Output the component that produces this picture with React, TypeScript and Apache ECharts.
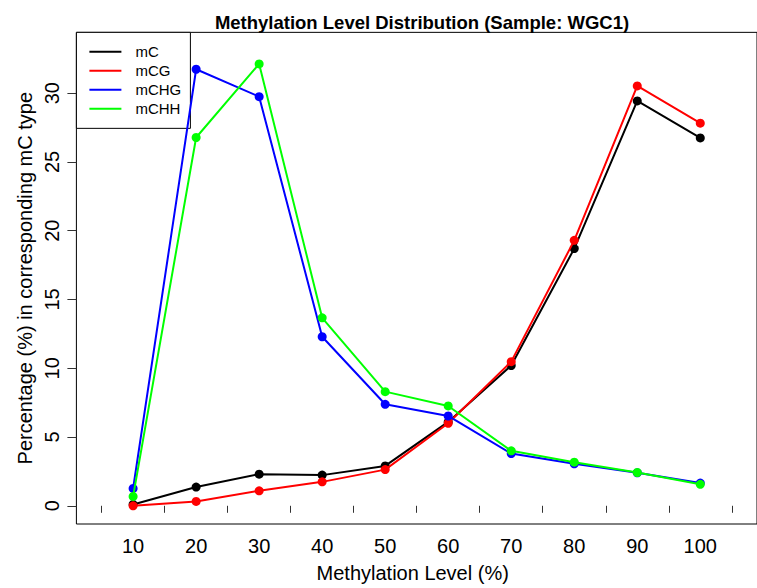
import React, { useEffect, useRef } from "react";
import * as echarts from "echarts";

const levels = [10, 20, 30, 40, 50, 60, 70, 80, 90, 100];
const seriesNames = ["mC", "mCG", "mCHG", "mCHH"];
const mC = [0.1, 1.36, 2.3, 2.23, 2.9, 6.1, 10.2, 18.7, 29.44, 26.75];
const mCG = [0.0, 0.32, 1.09, 1.74, 2.63, 6.0, 10.48, 19.3, 30.53, 27.82];
const mCHG = [1.26, 31.74, 29.75, 12.29, 7.38, 6.53, 3.8, 3.05, 2.4, 1.65];
const mCHH = [0.68, 26.78, 32.13, 13.67, 8.3, 7.26, 4.0, 3.17, 2.42, 1.56];
const colors = ["#000000", "#ff0000", "#0000ff", "#00ff00"];
const xTickValues = [5, 15, 25, 35, 45, 55, 65, 75, 85, 95, 105];
const xLabelValues = [10, 20, 30, 40, 50, 60, 70, 80, 90, 100];
const yTickValues = [0, 5, 10, 15, 20, 25, 30];

const FONT = "Liberation Sans";

export default function App() {
  const ref = useRef<HTMLDivElement>(null);
  useEffect(() => {
    document.body.style.margin = "0";
    const chart = echarts.init(ref.current!, null, { renderer: "svg" });
    const allSeries = [mC, mCG, mCHG, mCHH];
    chart.setOption({
      animation: false,
      backgroundColor: "#ffffff",
      title: {
        text: "Methylation Level Distribution (Sample: WGC1)",
        left: 417,
        textAlign: "center",
        top: 8,
        textStyle: { fontFamily: FONT, fontSize: 18.5, fontWeight: "bold", color: "#000" },
      },
      legend: {
        left: 76.4,
        top: 32.35,
        orient: "vertical",
        icon: "rect",
        itemWidth: 32,
        itemHeight: 2,
        itemGap: 0,
        padding: [10, 5, 10, 13],
        borderColor: "#000",
        borderWidth: 1,
        backgroundColor: "#fff",
        textStyle: {
          fontFamily: FONT,
          fontSize: 15,
          lineHeight: 19,
          color: "#000",
          padding: [0, 0, 0, 9],
          width: 50,
        },
        data: seriesNames,
      },
      grid: {
        left: 76.4,
        top: 32.35,
        width: 682.8,
        height: 492.6,
        show: true,
        borderColor: "#000",
        borderWidth: 1,
        containLabel: false,
      },
      xAxis: {
        type: "value",
        min: 1,
        max: 109,
        offset: 3,
        name: "Methylation Level (%)",
        nameLocation: "middle",
        nameGap: 36,
        nameTextStyle: { fontFamily: FONT, fontSize: 20, color: "#000", padding: [0, 8, 0, 0] },
        axisLine: { show: false },
        axisTick: { show: true, length: 7, customValues: xTickValues, lineStyle: { color: "#333" } },
        axisLabel: {
          customValues: xLabelValues,
          fontFamily: FONT,
          fontSize: 20,
          color: "#000",
          margin: 9,
        },
        splitLine: { show: false },
      },
      yAxis: {
        type: "value",
        min: -1.324,
        max: 34.424,
        name: "Percentage (%) in corresponding mC type",
        nameLocation: "middle",
        nameGap: 39,
        nameRotate: 90,
        nameTextStyle: { fontFamily: FONT, fontSize: 20, color: "#000" },
        axisLine: { show: false },
        axisTick: { show: true, length: 9, customValues: yTickValues, lineStyle: { color: "#333" } },
        axisLabel: {
          customValues: yTickValues,
          rotate: 90,
          fontFamily: FONT,
          fontSize: 20,
          color: "#000",
          margin: 14,
        },
        splitLine: { show: false },
      },
      series: seriesNames.map((name, i) => ({
        name,
        type: "line",
        data: levels.map((l, j) => [l, allSeries[i][j]]),
        symbol: "circle",
        symbolSize: 9,
        lineStyle: { color: colors[i], width: 2 },
        itemStyle: { color: colors[i] },
        z: 2 + i,
      })),
    });
    return () => chart.dispose();
  }, []);
  return <div ref={ref} style={{ width: 757, height: 588 }} />;
}
